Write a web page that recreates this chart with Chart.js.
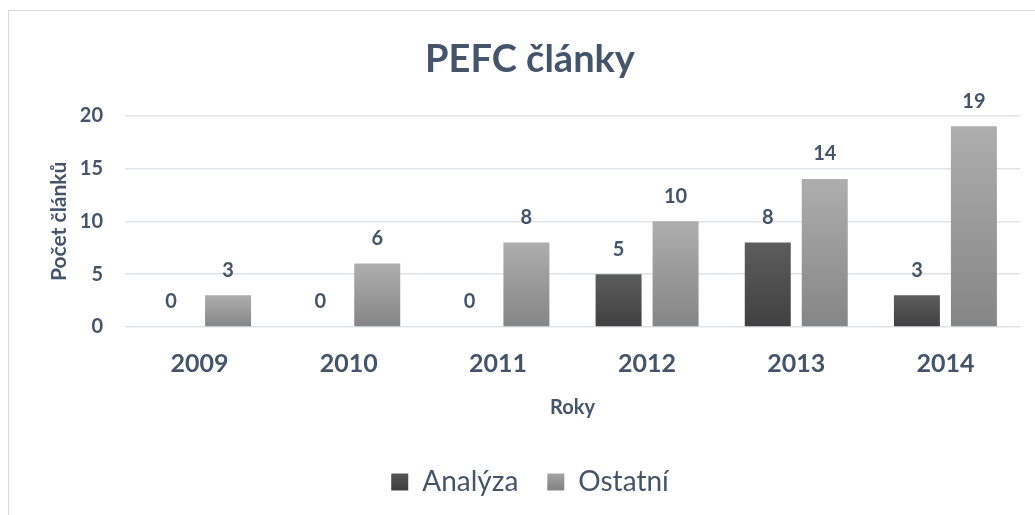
<!DOCTYPE html>
<html>
<head>
<meta charset="utf-8">
<script src="https://cdn.jsdelivr.net/npm/chart.js@4.4.1/dist/chart.umd.min.js"></script>
<style>
  html, body { margin: 0; padding: 0; background: #fff; overflow: hidden; }
  #wrap { position: relative; width: 1035px; height: 515px; }
  #frame { position: absolute; left: 8px; top: 10px; width: 1100px; height: 600px; border: 1px solid #d9d9d9; box-sizing: border-box; }
  canvas { position: absolute; left: 0; top: 0; }
</style>
</head>
<body>
<div id="wrap">
  <div id="frame"></div>
  <canvas id="chart" width="1035" height="515"></canvas>
</div>
<script>
// data
const roky = ['2009', '2010', '2011', '2012', '2013', '2014'];
const analyza = [0, 0, 0, 5, 8, 3];
const ostatni = [3, 6, 8, 10, 14, 19];
const yTicks = [0, 5, 10, 15, 20];

const textColor = '#44546a';
const fontName = 'Lato';

// gradient per bar, top to bottom
function barFill(top, bottom) {
    return function(context) {
        const chart = context.chart;
        const y = chart.scales.y;
        if (!y || context.raw === undefined) return bottom;
        const y0 = y.getPixelForValue(0);
        const y1 = y.getPixelForValue(context.raw);
        if (y0 === y1) return bottom;
        const g = chart.ctx.createLinearGradient(0, y1, 0, y0);
        g.addColorStop(0, top);
        g.addColorStop(1, bottom);
        return g;
    };
}

function legendFill(ctx, top, bottom) {
    // box is about 17px high around legend text center
    const g = ctx.createLinearGradient(0, 469, 0, 488);
    g.addColorStop(0, top);
    g.addColorStop(1, bottom);
    return g;
}

// popisky hodnot nad sloupci
const valueLabels = {
    id: 'valueLabels',
    afterDatasetsDraw(chart) {
        const ctx = chart.ctx;
        ctx.save();
        ctx.font = 'bold 20px ' + fontName;
        ctx.fillStyle = textColor;
        ctx.textAlign = 'center';
        ctx.textBaseline = 'middle';
        chart.data.datasets.forEach((ds, i) => {
            chart.getDatasetMeta(i).data.forEach((bar, j) => {
                ctx.fillText(String(ds.data[j]), bar.x, bar.y - 25);
            });
        });
        ctx.restore();
    }
};

const ctx = document.getElementById('chart').getContext('2d');

new Chart(ctx, {
    type: 'bar',
    data: {
        labels: roky,
        datasets: [
            {
                label: 'Analýza',
                data: analyza,
                backgroundColor: barFill('#5d5d5d', '#404040'),
                categoryPercentage: 0.764,
                barPercentage: 0.807
            },
            {
                label: 'Ostatní',
                data: ostatni,
                backgroundColor: barFill('#aeaeae', '#858585'),
                categoryPercentage: 0.764,
                barPercentage: 0.807
            }
        ]
    },
    options: {
        responsive: false,
        animation: false,
        layout: {
            padding: { top: 37, left: 40, right: 15, bottom: 9 }
        },
        scales: {
            x: {
                grid: { display: false, drawTicks: false },
                border: { display: false },
                ticks: {
                    color: textColor,
                    font: { family: fontName, size: 25, weight: 'bold' },
                    padding: 22
                },
                title: {
                    display: true,
                    text: 'Roky',
                    color: textColor,
                    font: { family: fontName, size: 20, weight: 'bold' },
                    padding: { top: 0, bottom: 19 }
                },
                afterFit(scale) { scale.height = 112; }
            },
            y: {
                min: 0,
                max: 20,
                afterBuildTicks(scale) {
                    scale.ticks = yTicks.map(v => ({ value: v }));
                },
                grid: { color: '#dfe2e7', lineWidth: 1.5, drawTicks: false },
                border: { display: false },
                ticks: {
                    color: textColor,
                    font: { family: fontName, size: 20, weight: 'bold' },
                    padding: 22
                },
                title: {
                    display: true,
                    text: 'Počet článků',
                    color: textColor,
                    font: { family: fontName, size: 21, weight: 'bold' },
                    padding: { top: 7, bottom: 0 }
                },
                afterFit(scale) { scale.width = 85; }
            }
        },
        plugins: {
            title: {
                display: true,
                text: 'PEFC články',
                color: textColor,
                font: { family: fontName, size: 38, weight: 'bold', lineHeight: 1.2 },
                padding: { top: 0, bottom: 33 }
            },
            legend: {
                position: 'bottom',
                labels: {
                    color: textColor,
                    font: { family: fontName, size: 28 },
                    boxWidth: 17,
                    boxHeight: 17,
                    padding: 29,
                    generateLabels(chart) {
                        const c = chart.ctx;
                        return [
                            { text: 'Analýza', fillStyle: legendFill(c, '#5d5d5d', '#404040'), strokeStyle: 'rgba(0,0,0,0)', lineWidth: 0, fontColor: textColor, datasetIndex: 0 },
                            { text: 'Ostatní', fillStyle: legendFill(c, '#aeaeae', '#858585'), strokeStyle: 'rgba(0,0,0,0)', lineWidth: 0, fontColor: textColor, datasetIndex: 1 }
                        ];
                    }
                }
            },
            tooltip: { enabled: false }
        }
    },
    plugins: [valueLabels]
});
</script>
</body>
</html>
